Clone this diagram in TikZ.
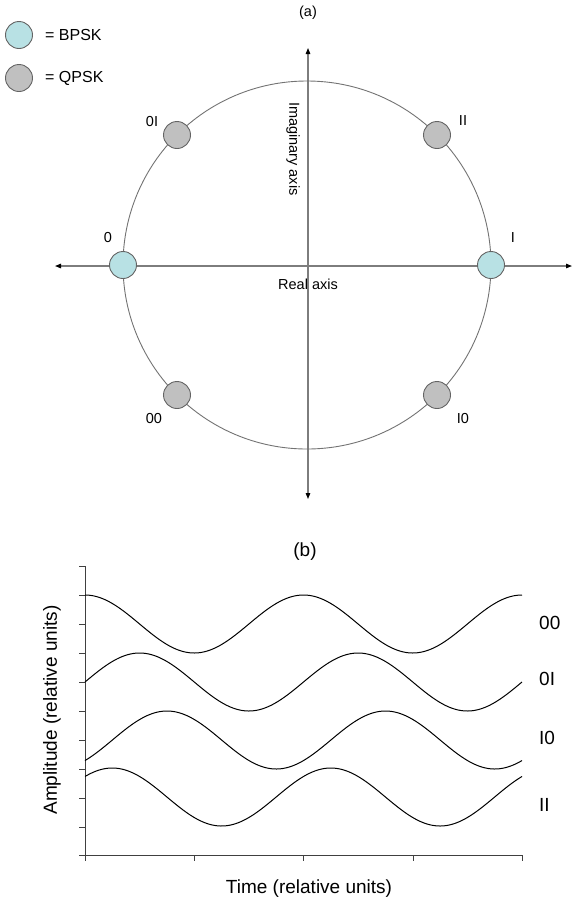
\documentclass[tikz,border=0pt]{standalone}
\usepackage{fontspec}
\setmainfont{Liberation Sans}
\usetikzlibrary{arrows.meta}
\definecolor{axisgray}{RGB}{125,125,125}
\definecolor{ringgray}{RGB}{115,115,115}
\definecolor{dotline}{RGB}{100,100,100}
\definecolor{bpskfill}{RGB}{184,225,228}
\definecolor{qpskfill}{RGB}{192,192,192}
\tikzset{
  axisline/.style={draw=axisgray, line width=1.2pt, -{Triangle[length=6pt,width=4.5pt,color=black]}},
  dotb/.style={circle, draw=dotline, line width=0.9pt, fill=bpskfill, minimum size=27pt, inner sep=0pt},
  dotq/.style={circle, draw=dotline, line width=0.9pt, fill=qpskfill, minimum size=27pt, inner sep=0pt},
  toplab/.style={font=\fontsize{14.5}{16}\selectfont, inner sep=0pt},
  leglab/.style={font=\fontsize{16}{18}\selectfont, inner sep=0pt, anchor=west},
  botlab/.style={font=\fontsize{19}{22}\selectfont, inner sep=0pt},
  wave/.style={black, line width=1pt, smooth},
  plotaxis/.style={draw=black!75, line width=1pt},
  tick/.style={draw=black!75, line width=1pt}
}
\begin{document}
\begin{tikzpicture}[x=1pt,y=-1pt]
\useasboundingbox (0,0) rectangle (572,903);
% ---------- (a) ----------
\node[toplab] (ta) at (308,13) {(a)};
% legend
\node[dotb] (legb) at (19,35) {};
\node[leglab] (legbt) at (45,35) {= BPSK};
\node[dotq] (legq) at (19,78) {};
\node[leglab] (legqt) at (45,78) {= QPSK};
% axes
\coordinate (xl) at (55,266);
\coordinate (xr) at (572,266);
\coordinate (yt) at (308,48);
\coordinate (yb) at (308,499);
\coordinate (o) at (308,266);
\draw[axisline] (o) -- (xl);
\draw[axisline] (o) -- (xr);
\draw[axisline] (o) -- (yt);
\draw[axisline] (o) -- (yb);
% ring
\draw[ringgray, line width=0.9pt] (307,265) circle[radius=184];
% points
\node[dotb] (p0) at (123,265) {};
\node[dotb] (p1) at (491,265) {};
\node[dotq] (p01) at (177,135) {};
\node[dotq] (p11) at (437,135) {};
\node[dotq] (p00) at (177,395) {};
\node[dotq] (p10) at (437,395) {};
% labels
\node[toplab] (l0) at (108,238) {0};
\node[toplab] (l1) at (513,238) {I};
\node[toplab] (l01) at (152,122) {0I};
\node[toplab] (l11) at (463,121) {II};
\node[toplab] (l00) at (154,419) {00};
\node[toplab] (l10) at (463,419) {I0};
\node[toplab, rotate=-90] (lim) at (293,149) {Imaginary axis};
\node[toplab] (lre) at (308,284) {Real axis};
% ---------- (b) ----------
\node[botlab] (tb) at (305,552) {(b)};
\coordinate (pyt) at (85,566);
\coordinate (po) at (85,855);
\coordinate (pxr) at (522,855);
\draw[plotaxis] (pyt) -- (po) -- (pxr);
\foreach \yy in {566,595,624,653,682,711,740,769,798,827,855}
  \draw[tick] (85,\yy) -- (79,\yy);
\foreach \xx in {85,194,303,413,522}
  \draw[tick] (\xx,855) -- (\xx,861);
\draw[wave] plot[domain=85:522, samples=220] ({\x},{624-29*cos(1.6476*(\x-85))});
\draw[wave] plot[domain=85:522, samples=220] ({\x},{682-29*sin(1.6476*(\x-85))});
\draw[wave] plot[domain=85:522, samples=220] ({\x},{740-29*cos(1.6476*(\x-167))});
\draw[wave] plot[domain=85:522, samples=220] ({\x},{797-29*cos(1.6476*(\x-112.3))});
\node[botlab, anchor=west] (w00) at (539,623) {00};
\node[botlab, anchor=west] (w01) at (539,679) {0I};
\node[botlab, anchor=west] (w10) at (539,738) {I0};
\node[botlab, anchor=west] (w11) at (539,805) {II};
\node[botlab, rotate=90] (ylab) at (52,710) {Amplitude (relative units)};
\node[botlab] (xlab) at (309,889) {Time (relative units)};
\end{tikzpicture}
\end{document}
